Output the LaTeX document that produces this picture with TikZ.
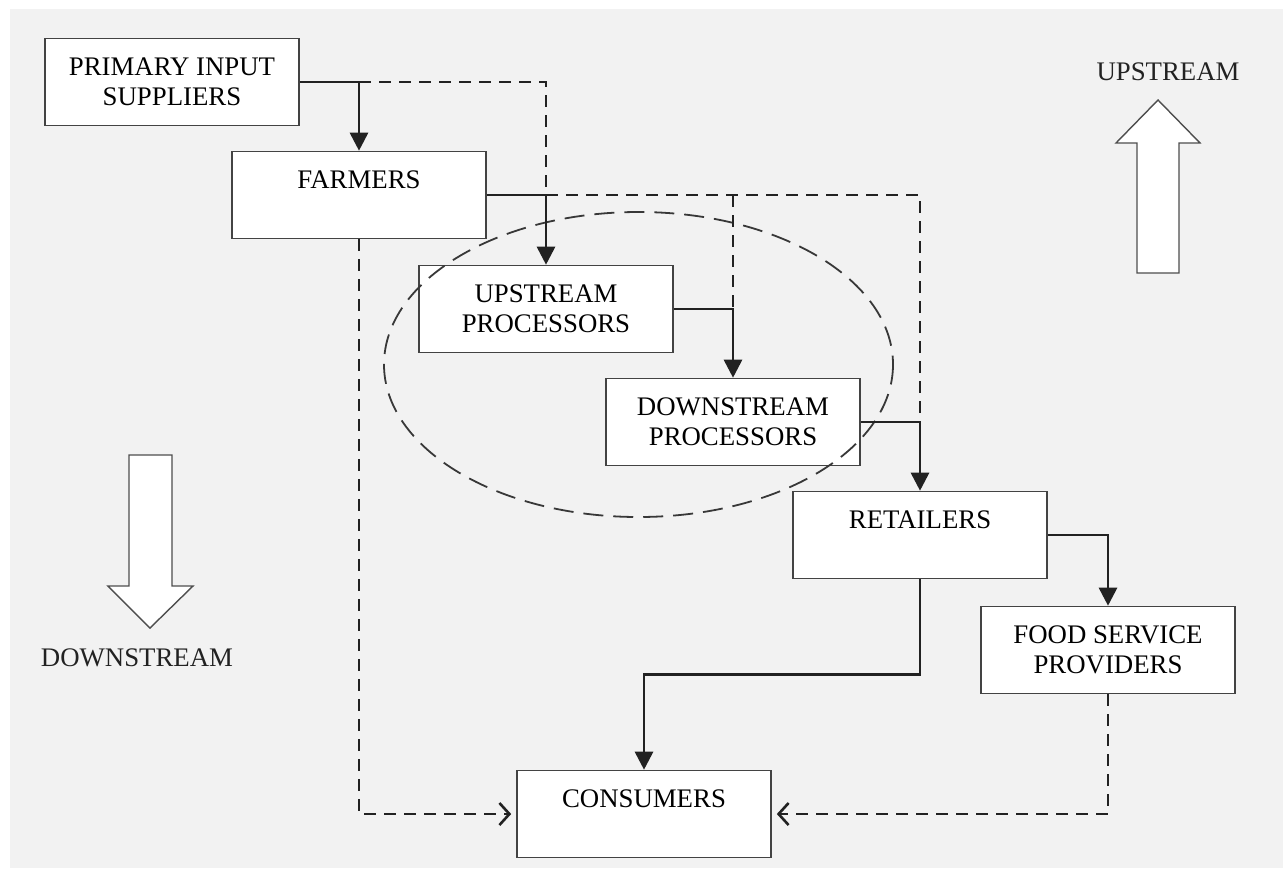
\documentclass[tikz,border=0pt]{standalone}
\usepackage{fontspec}
\setmainfont{Liberation Serif}
\usetikzlibrary{arrows.meta, calc}
\definecolor{panel}{HTML}{F2F2F2}
\definecolor{ink}{HTML}{222222}
\tikzset{
  box/.style={draw=ink!85, line width=0.8pt, fill=white,
    minimum width=127pt, minimum height=43.5pt, inner sep=0pt,
    align=center, font=\fontsize{13.4}{15}\selectfont},
  flow/.style={draw=ink, line width=1.4pt, -{Triangle[width=9pt,length=9pt]}},
  dashlink/.style={draw=ink, line width=1.3pt, dash pattern=on 6pt off 4pt},
  opentip/.style={-{Straight Barb[length=5pt,width=11pt]}, shorten >=2.5pt},
  cluster/.style={draw=ink!90, line width=0.9pt, dash pattern=on 10pt off 5pt},
  bigarrow/.style={draw=ink!80, line width=0.7pt, fill=white},
  streamtext/.style={font=\fontsize{13.4}{15}\selectfont, text=ink}
}
\begin{document}
\begin{tikzpicture}[x=0.5pt, y=-0.5pt]
  \useasboundingbox (0,0) rectangle (1283,868);
  \fill[panel] (10,9) rectangle (1283,868);
  % stages of the chain
  \node[box] (pis)  at (172,82)  {PRIMARY INPUT\\SUPPLIERS};
  \node[box] (farm) at (359,195) {FARMERS\\\mbox{}};
  \node[box] (up)   at (546,309) {UPSTREAM\\PROCESSORS};
  \node[box] (dp)   at (733,422) {DOWNSTREAM\\PROCESSORS};
  \node[box] (ret)  at (920,535) {RETAILERS\\\mbox{}};
  \node[box] (fsp)  at (1108,650) {FOOD SERVICE\\PROVIDERS};
  \node[box] (cons) at (644,814) {CONSUMERS\\\mbox{}};
  % processing sector
  \draw[cluster] (638.5,364.5) ellipse [x radius=254.5, y radius=152.5];
  % junctions
  \coordinate (pj) at (farm.north |- pis.east);
  \coordinate (fj) at (up.north |- farm.east);
  \coordinate (fk) at (dp.north |- farm.east);
  \coordinate (uj) at (dp.north |- up.east);
  \coordinate (dj) at (ret.north |- dp.east);
  \coordinate (rc) at ($(ret.south)!.5!(cons.north)$);
  % main flows
  \draw[flow] (pis.east) -| (farm.north);
  \draw[flow] (farm.east) -| (up.north);
  \draw[flow] (up.east) -| (dp.north);
  \draw[flow] (dp.east) -| (ret.north);
  \draw[flow] (ret.east) -| (fsp.north);
  \draw[flow] (ret.south) |- (rc) -| (cons.north);
  % bypass flows
  \draw[dashlink] (pj) -| (fj);
  \draw[dashlink] (fj) -| (dj);
  \draw[dashlink] (fk) -- (uj);
  \draw[dashlink, opentip] (farm.south) |- (cons.west);
  \draw[dashlink, opentip] (fsp.south) |- (cons.east);
  % direction arrows
  \draw[bigarrow] (1137,273) -- (1137,143) -- (1116,143) -- (1158,100)
    -- (1200,143) -- (1179,143) -- (1179,273) -- cycle;
  \draw[bigarrow] (129,455) -- (129,586) -- (108,586) -- (150,628)
    -- (193,586) -- (172,586) -- (172,455) -- cycle;
  \node[streamtext] (uplabel) at (1168,72) {UPSTREAM};
  \node[streamtext] (downlabel) at (137,658) {DOWNSTREAM};
\end{tikzpicture}
\end{document}
